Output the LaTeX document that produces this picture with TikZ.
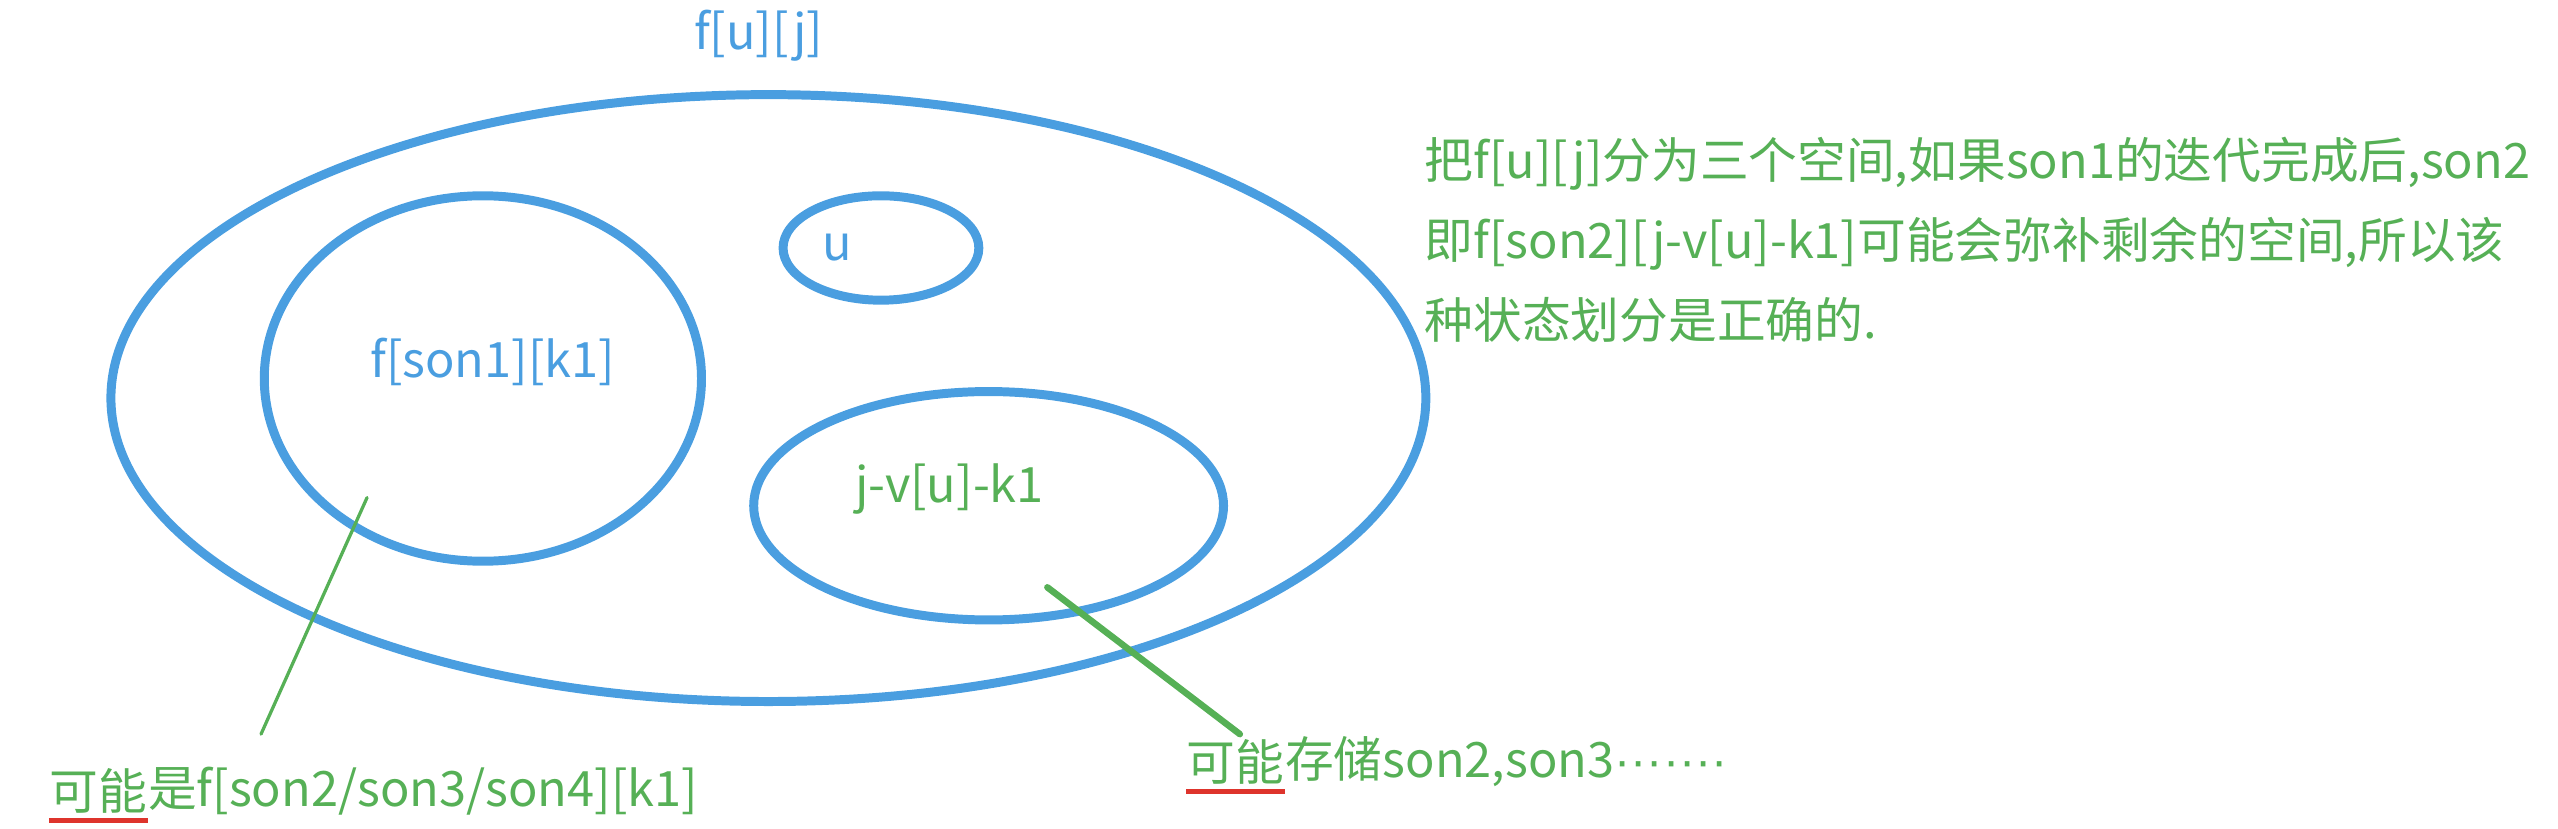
\documentclass[tikz,border=0pt]{standalone}
\usepackage{fontspec}
\setmainfont{Noto Sans CJK SC}
\newfontfamily\dotfont{Liberation Sans}
\usetikzlibrary{shapes.geometric,positioning}

\definecolor{setblue}{RGB}{74,158,224}
\definecolor{notegreen}{RGB}{86,176,86}
\definecolor{markred}{RGB}{222,52,44}

\begin{document}
\begin{tikzpicture}[x=0.2mm,y=-0.2mm,
    set node/.style={ellipse,draw=setblue,line width=1.1mm,inner sep=0pt},
    blue text/.style={text=setblue,inner sep=0pt,font=\fontsize{17}{20}\selectfont},
    note text/.style={text=notegreen,inner sep=0pt,font=\fontsize{17}{20}\selectfont},
    pointer/.style={draw=notegreen,line cap=round},
    mark line/.style={draw=markred,line width=0.6mm}]

  \useasboundingbox (0,0) rectangle (1568,508);

  % the sets
  \node[set node,minimum width=161.2mm,minimum height=74.4mm] (whole) at (471,244) {};
  \node[set node,minimum width=24mm,minimum height=12.8mm] (uset) at (540,152) {};
  \node[set node,minimum width=53.6mm,minimum height=44.8mm] (sonset) at (296,232) {};
  \node[set node,minimum width=57.6mm,minimum height=28mm] (restset) at (606,310) {};

  \node[blue text] (wholelabel) at (465,22) {f[u][j]};
  \node[blue text] (ulabel) at (513,152) {u};
  \node[blue text] (sonlabel) at (302,222) {f[son1][k1]};
  \node[note text] (restlabel) at (582,300) {j-v[u]-k1};

  % notes below
  \node[note text,anchor=west] (mayA) at (30,485) {可能};
  \node[note text,right=0pt of mayA] (restA) {是f[son2/son3/son4][k1]};
  \node[note text,anchor=west] (mayB) at (727,467) {可能};
  \node[note text,right=0pt of mayB] (restB) {存储son2,son3{\dotfont ·······}};

  \coordinate (tipA) at (225,305);
  \coordinate (endA) at (160,450);
  \coordinate (tipB) at (642,360);
  \coordinate (endB) at (760,450);
  \draw[pointer,line width=0.4mm] (tipA) -- (endA);
  \draw[pointer,line width=0.8mm] (tipB) -- (endB);

  \draw[mark line] ([yshift=-0.8mm]mayA.south west) -- ([yshift=-0.8mm]mayA.south east);
  \draw[mark line] ([yshift=-0.8mm]mayB.south west) -- ([yshift=-0.8mm]mayB.south east);

  % explanation
  \node[note text,anchor=west,align=left,font=\fontsize{17}{27.9}\selectfont] (explain) at (873,147)
    {把f[u][j]分为三个空间,如果son1的迭代完成后,son2\\
     即f[son2][j-v[u]-k1]可能会弥补剩余的空间,所以该\\
     种状态划分是正确的.};

\end{tikzpicture}
\end{document}
